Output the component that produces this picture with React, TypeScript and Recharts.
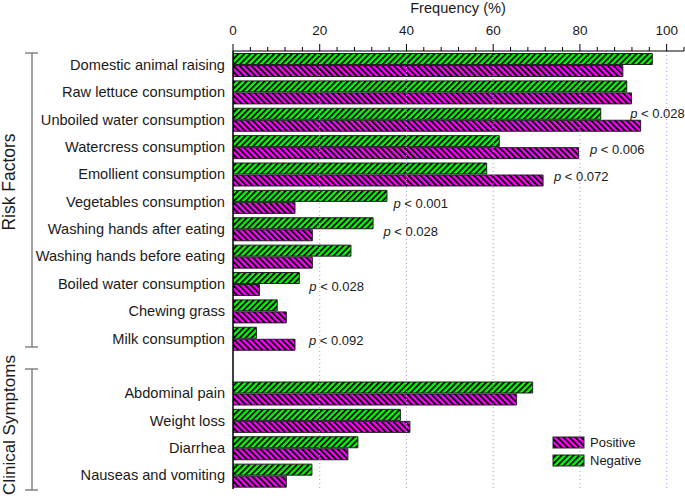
import React from 'react';
import { BarChart, Bar, XAxis, YAxis, ReferenceLine, LabelList } from 'recharts';

// categories, top to bottom ('' is the spacer row between the two groups)
const categories = [
  'Domestic animal raising',
  'Raw lettuce consumption',
  'Unboiled water consumption',
  'Watercress consumption',
  'Emollient consumption',
  'Vegetables consumption',
  'Washing hands after eating',
  'Washing hands before eating',
  'Boiled water consumption',
  'Chewing grass',
  'Milk consumption',
  '',
  'Abdominal pain',
  'Weight loss',
  'Diarrhea',
  'Nauseas and vomiting',
];

const negative = [96.7, 90.8, 84.8, 61.4, 58.5, 35.5, 32.3, 27.2, 15.3, 10.2, 5.4, null, 69.1, 38.6, 28.8, 18.2];
const positive = [89.9, 91.9, 94.0, 79.7, 71.5, 14.3, 18.3, 18.3, 6.1, 12.3, 14.3, null, 65.4, 40.8, 26.5, 12.3];

// p-value notes: text and where (in %) the note starts
const pText = ['', '', '0.028', '0.006', '0.072', '0.001', '0.028', '', '0.028', '', '0.092', '', '', '', '', ''];
const pAt = [0, 0, 91.6, 82.3, 74.0, 37.0, 34.7, 0, 17.6, 0, 17.5, 0, 0, 0, 0, 0];

const xTicks = [0, 4, 8, 12, 16, 20, 24, 28, 32, 36, 40, 44, 48, 52, 56, 60, 64, 68, 72, 76, 80, 84, 88, 92, 96, 100, 104];
const gridLines = [20, 40, 60, 80, 100];

const data = categories.map((name, i) => ({
  name,
  negative: negative[i],
  positive: positive[i],
  p: pText[i],
}));

const FONT = 'Arial, "Liberation Sans", sans-serif';
const FS = 14.6;
const W = 685;
const H = 500;

const TopTick = (props: any) => {
  const { x, y, payload } = props;
  const v = payload.value;
  const major = v % 20 === 0;
  return (
    <g>
      <line x1={x} x2={x} y1={y} y2={y - (major ? 7 : 4)} stroke="#000" strokeWidth={1} />
      {major && v <= 100 && (
        <text x={x} y={y - 16} textAnchor="middle" fontSize={13.5} fontFamily={FONT} fill="#1a1a1a">
          {v}
        </text>
      )}
    </g>
  );
};

const PNote = (props: any) => {
  const { x, y, width, height, index, value } = props;
  if (!value) return null;
  const scale = width / negative[index]!;
  const tx = x + pAt[index] * scale;
  const posEnd = x + (positive[index] ?? 0) * scale;
  // sit above the positive bar when it reaches under the note
  const ty = tx < posEnd + 2 ? y + height - 1 : y + height + 7;
  return (
    <text x={tx} y={ty} fontSize={13} fontFamily={FONT} fill="#1a1a1a">
      <tspan fontStyle="italic">p</tspan>
      <tspan> &lt; {value}</tspan>
    </text>
  );
};

const Patterns = () => (
  <defs>
    <pattern id="negStripe" patternUnits="userSpaceOnUse" width={4.2} height={4.2} patternTransform="rotate(45)">
      <rect width={4.2} height={4.2} fill="#00ff00" />
      <rect width={1.9} height={4.2} fill="#000" />
    </pattern>
    <pattern id="posStripe" patternUnits="userSpaceOnUse" width={4.2} height={4.2} patternTransform="rotate(-45)">
      <rect width={4.2} height={4.2} fill="#ff00ff" />
      <rect width={1.9} height={4.2} fill="#000" />
    </pattern>
  </defs>
);

const Overlay = () => (
  <svg width={W} height={H} style={{ position: 'absolute', left: 0, top: 0, pointerEvents: 'none' }}>
    <Patterns />
    <text x={458} y={13} textAnchor="middle" fontSize={FS} fontFamily={FONT} fill="#1a1a1a">
      Frequency (%)
    </text>
    {/* group brackets */}
    <g stroke="#666" strokeWidth={1.2}>
      <line x1={32} x2={32} y1={53} y2={347} />
      <line x1={25} x2={38} y1={53} y2={53} />
      <line x1={25} x2={38} y1={347} y2={347} />
      <line x1={32} x2={32} y1={369} y2={490} />
      <line x1={25} x2={38} y1={369} y2={369} />
      <line x1={25} x2={38} y1={490} y2={490} />
    </g>
    <text transform="translate(15,182) rotate(-90)" textAnchor="middle" fontSize={17.5} fontFamily={FONT} fill="#1a1a1a">
      Risk Factors
    </text>
    <text transform="translate(15,425) rotate(-90)" textAnchor="middle" fontSize={17} fontFamily={FONT} fill="#1a1a1a">
      Clinical Symptoms
    </text>
    {/* legend */}
    <rect x={553} y={437} width={31} height={11} fill="url(#posStripe)" stroke="#222" strokeWidth={1} />
    <text x={590} y={447} fontSize={13} fontFamily={FONT} fill="#1a1a1a">Positive</text>
    <rect x={553} y={455} width={31} height={11} fill="url(#negStripe)" stroke="#222" strokeWidth={1} />
    <text x={590} y={465} fontSize={13} fontFamily={FONT} fill="#1a1a1a">Negative</text>
  </svg>
);

export default function App() {
  return (
    <div style={{ position: 'absolute', left: 0, top: 0, width: W, height: H, background: '#fff' }}>
      <Overlay />
      <div style={{ position: 'absolute', left: 0, top: 0 }}>
        <BarChart
          width={W}
          height={H}
          data={data}
          layout="vertical"
          margin={{ top: 21, right: 1, bottom: 11, left: 38 }}
          barCategoryGap={2.5}
          barGap={1}
        >
          <XAxis
            type="number"
            orientation="top"
            domain={[0, 104]}
            ticks={xTicks}
            interval={0}
            height={30}
            tickLine={false}
            tickSize={0}
            tickMargin={0}
            tick={<TopTick />}
            axisLine={{ stroke: '#000', strokeWidth: 1 }}
            allowDataOverflow
          />
          <YAxis
            type="category"
            dataKey="name"
            width={195}
            tickLine={false}
            tickSize={0}
            tickMargin={8}
            interval={0}
            axisLine={{ stroke: '#000', strokeWidth: 1.5 }}
            tick={{ fontSize: FS, fontFamily: FONT, fill: '#1a1a1a' }}
          />
          {gridLines.map((g) => (
            <ReferenceLine key={g} x={g} stroke="#b68cff" strokeDasharray="1 3" strokeWidth={1} />
          ))}
          <Bar dataKey="negative" fill="url(#negStripe)" stroke="#222" strokeWidth={1} isAnimationActive={false}>
            <LabelList dataKey="p" content={<PNote />} />
          </Bar>
          <Bar dataKey="positive" fill="url(#posStripe)" stroke="#222" strokeWidth={1} isAnimationActive={false} />
        </BarChart>
      </div>
    </div>
  );
}
